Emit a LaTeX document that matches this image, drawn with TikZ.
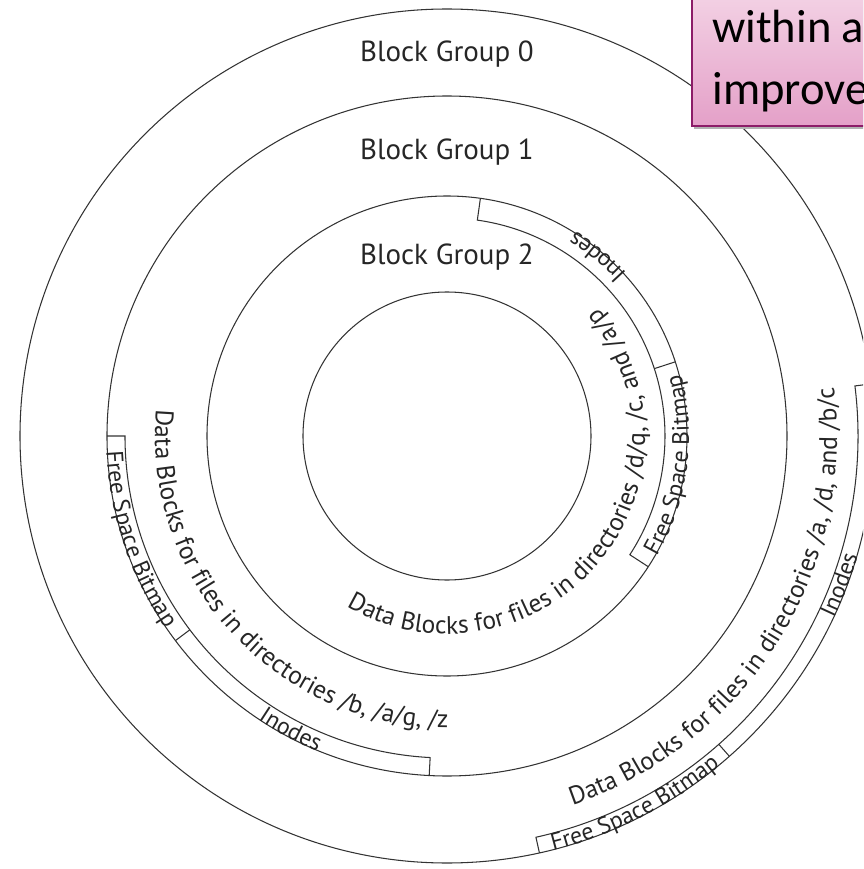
\documentclass[tikz,border=0pt]{standalone}
\usepackage{fontspec}
\setmainfont{PT Sans}
\newfontfamily\notefamily{Carlito}
\usetikzlibrary{decorations.text}

\definecolor{notetop}{RGB}{245,216,232}
\definecolor{notebottom}{RGB}{228,160,200}
\definecolor{noteedge}{RGB}{140,28,104}

\newcommand\groupfont{\fontsize{16.5}{19}\selectfont}
\newcommand\datafont{\fontsize{14.5}{17}\selectfont}
\newcommand\bandfont{\fontsize{13.5}{16}\selectfont}
\newcommand\notefont{\notefamily\fontsize{26.5}{35}\selectfont}

\begin{document}
\begin{tikzpicture}[x=0.02cm,y=0.02cm,
  disk/.style={draw=black!80, line width=0.6pt},
  grouplabel/.style={font=\groupfont, text=black!85, anchor=base, inner sep=0pt},
  arclabel/.style={decorate, decoration={text along path, text align=center, text color=black!85, text={#1}}},
  notebox/.style={draw=noteedge, line width=0.8pt, top color=notetop, bottom color=notebottom},
  notetext/.style={font=\notefont, anchor=base west, inner sep=0pt}]
\useasboundingbox (-447,-433) rectangle (416,436);
\clip (-447,-433) rectangle (416,436);

\draw[disk] (0,0) circle (427);
\draw[disk] (0,0) circle (340);
\draw[disk] (0,0) circle (240);
\draw[disk] (0,0) circle (144);

\draw[disk] (7:427) -- (7:411) arc[start angle=7, end angle=-77.5, radius=411] -- (-77.5:427);
\draw[disk] (-48.6:411) -- (-48.6:427);
\draw[disk] (180:340) -- (180:322) arc[start angle=180, end angle=267, radius=322] -- (267:340);
\draw[disk] (217:322) -- (217:340);
\draw[disk] (82:240) -- (82:218) arc[start angle=82, end angle=-33, radius=218] -- (-33:240);
\draw[disk] (18:218) -- (18:240);

\node[grouplabel] (group0) at (0,374) {Block Group 0};
\node[grouplabel] (group1) at (0,276) {Block Group 1};
\node[grouplabel] (group2) at (0,171) {Block Group 2};

\path[arclabel={|\bandfont|Inodes}] (-60.8:428) arc[start angle=-60.8, end angle=19.2, radius=428];
\path[arclabel={|\bandfont|Free Space Bitmap}] (-103:428) arc[start angle=-103, end angle=-23, radius=428];
\path[arclabel={|\datafont|Data Blocks for files in directories /a, /d, and /b/c}] (-92:390) arc[start angle=-92, end angle=28, radius=390];

\path[arclabel={|\bandfont|Free Space Bitmap}] (158.5:341) arc[start angle=158.5, end angle=238.5, radius=341];
\path[arclabel={|\bandfont|Inodes}] (202:341) arc[start angle=202, end angle=282, radius=341];
\path[arclabel={|\datafont|Data Blocks for files in directories /b, /a/g, /z}] (152.5:292) arc[start angle=152.5, end angle=292.5, radius=292];

\path[arclabel={|\bandfont|Inodes}] (10:242) arc[start angle=10, end angle=90, radius=242];
\path[arclabel={|\bandfont|Free Space Bitmap}] (-47.5:242) arc[start angle=-47.5, end angle=32.5, radius=242];
\path[arclabel={|\datafont|Data Blocks for files in directories /d/q, /c, and /a/p}] (-140:198) arc[start angle=-140, end angle=60, radius=198];

\fill[black!30] (247,307) rectangle (460,460);
\path[notebox] (245,310) rectangle (460,460);
\node[notetext] (within) at (265,393) {within a};
\node[notetext] (improve) at (265,331) {improve};
\end{tikzpicture}
\end{document}
